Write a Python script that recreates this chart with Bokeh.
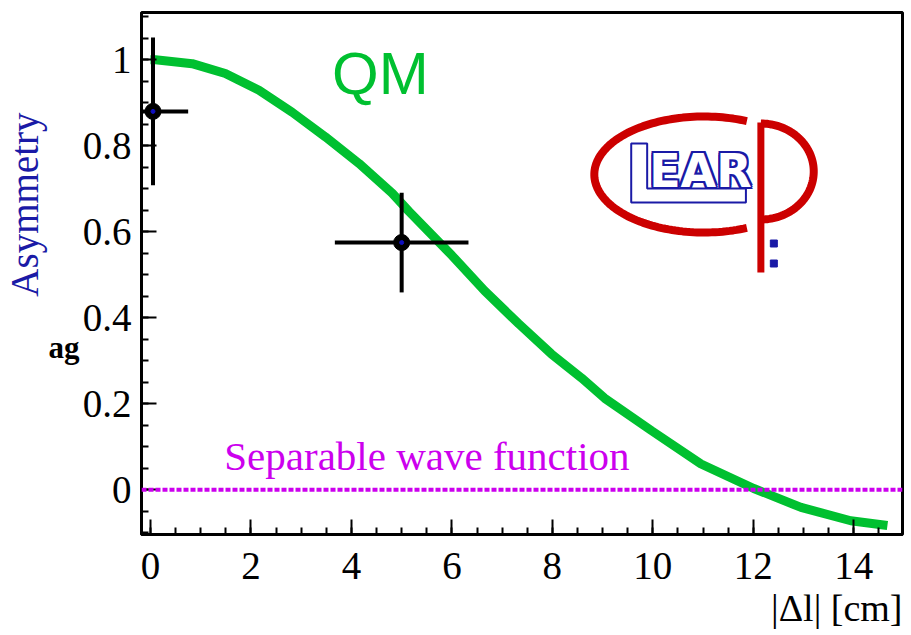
import numpy as np
from bokeh.plotting import figure
from bokeh.models import FixedTicker, Label, Span, Range1d, LinearAxis, Title
from bokeh.embed import file_html
from bokeh.resources import INLINE

# ---------------- data ----------------
qm_x = [0.0, 0.10, 0.83, 1.49, 2.16, 2.82, 3.48, 4.15, 4.81, 5.14, 6.00, 6.65,
        7.33, 7.98, 8.58, 9.04, 9.98, 10.96, 12.01, 12.95, 13.94, 14.67]
qm_y = [1.0, 1.0, 0.991, 0.968, 0.929, 0.878, 0.821, 0.759, 0.690, 0.648, 0.545, 0.463,
        0.386, 0.316, 0.260, 0.213, 0.137, 0.060, 0.003, -0.041, -0.072, -0.083]

pt_x = [0.05, 5.0]
pt_y = [0.88, 0.575]
pt_xerr = [0.70, 1.33]
pt_yerr = [0.172, 0.116]

separable_y = 0.0

x_ticks = [0, 2, 4, 6, 8, 10, 12, 14]
x_tick_labels = ["0", "2", "4", "6", "8", "10", "12", "14"]
x_minor = [i * 0.5 for i in range(0, 31)]
y_ticks = [0, 0.2, 0.4, 0.6, 0.8, 1]
y_tick_labels = ["0", "0.2", "0.4", "0.6", "0.8", "1"]
y_minor = [round(-0.1 + i * 0.05, 2) for i in range(0, 25)]
stray_tick = [0.331]
stray_label = ["ag"]

X0, X1 = -0.179, 14.97
Y0, Y1 = -0.104, 1.110

# ---------------- figure ----------------
p = figure(width=908, height=634, x_range=Range1d(X0, X1), y_range=Range1d(Y0, Y1),
           output_backend="svg", toolbar_location=None,
           min_border_left=139, min_border_right=6, min_border_top=12, min_border_bottom=100)
p.grid.visible = False
p.background_fill_color = "white"
p.border_fill_color = "white"
p.outline_line_color = "black"
p.outline_line_width = 3

for ax, ticks, labels, minor in ((p.xaxis[0], x_ticks, x_tick_labels, x_minor),
                                 (p.yaxis[0], y_ticks, y_tick_labels, y_minor)):
    ax.ticker = FixedTicker(ticks=ticks, minor_ticks=minor)
    ax.major_label_overrides = {t: l for t, l in zip(ticks, labels)}
    ax.major_label_text_font = "Liberation Serif"
    ax.major_label_text_font_size = "39px"
    ax.major_label_text_color = "black"
    ax.axis_line_width = 3
    ax.axis_line_color = "black"
    ax.major_tick_in = 15
    ax.major_tick_out = 0
    ax.minor_tick_in = 7
    ax.minor_tick_out = 0
    ax.major_tick_line_width = 2
    ax.minor_tick_line_width = 2
    ax.major_tick_line_color = "black"
    ax.minor_tick_line_color = "black"
p.xaxis.major_label_standoff = 18
p.yaxis.major_label_standoff = 10

# stray "ag" mark left of the y tick labels
ax2 = LinearAxis(ticker=FixedTicker(ticks=stray_tick, minor_ticks=[]),
                 major_label_overrides={t: l for t, l in zip(stray_tick, stray_label)},
                 axis_line_color=None, major_tick_line_color=None, minor_tick_line_color=None,
                 major_tick_in=0, major_tick_out=0, minor_tick_in=0, minor_tick_out=0,
                 major_label_standoff=0, major_label_text_font="Liberation Serif",
                 major_label_text_font_style="bold", major_label_text_font_size="31px",
                 major_label_text_color="black")
p.add_layout(ax2, "left")

blue = "#1a1aa6"
p.add_layout(Title(text="Asymmetry", align="right", offset=100, standoff=0,
                   text_font="Liberation Serif", text_font_style="normal",
                   text_font_size="39px", text_color=blue), "left")
p.add_layout(Title(text="|\u0394l| [cm]", align="right", standoff=6,
                   text_font="Liberation Serif", text_font_style="normal",
                   text_font_size="38px", text_color="black"), "below")

# pixel -> data helpers for decorations (frame: 139..902 x, 12..534 y)
def PX(px):
    return X0 + (px - 139) / 763.0 * (X1 - X0)

def PY(py):
    return Y1 - (py - 12) / 522.0 * (Y1 - Y0)

# separable wave function line
p.add_layout(Span(location=separable_y, dimension="width", line_color="#cc00ee",
                  line_width=4, line_dash="5 2"))

# QM curve
p.line(qm_x, qm_y, line_color="#00c030", line_width=9)

# error bars
p.segment(x0=[x - e for x, e in zip(pt_x, pt_xerr)], x1=[x + e for x, e in zip(pt_x, pt_xerr)],
          y0=pt_y, y1=pt_y, line_color="black", line_width=4)
p.segment(x0=pt_x, x1=pt_x, y0=[y - e for y, e in zip(pt_y, pt_yerr)],
          y1=[y + e for y, e in zip(pt_y, pt_yerr)], line_color="black", line_width=4)
p.scatter(pt_x, pt_y, size=16, color="black")
p.scatter(pt_x, pt_y, size=4, color="#1010c0")

# ---------------- LEAR logo ----------------
red = "#cc0000"
th = np.radians(np.linspace(67, 293, 120))
p.line([PX(703 + 110 * np.cos(t)) for t in th], [PY(174 - 58 * np.sin(t)) for t in th],
       line_color=red, line_width=8)
th2 = np.radians(np.linspace(-90, 90, 80))
p.line([PX(760 + 53 * np.cos(t)) for t in th2], [PY(171 - 48 * np.sin(t)) for t in th2],
       line_color=red, line_width=8)
p.line([PX(760), PX(760)], [PY(122), PY(272)], line_color=red, line_width=7)
p.rect([PX(773), PX(773)], [PY(243), PY(263)], width=7, height=7,
       width_units="screen", height_units="screen", color=blue)
Lx = [630, 646, 646, 745, 745, 630]
Ly = [143, 143, 188, 188, 202, 202]
p.patch([PX(v) for v in Lx], [PY(v) for v in Ly], fill_color="white",
        line_color=blue, line_width=2)
for dx, dy in ((-2, 0), (2, 0), (0, -2), (0, 2), (-2, -2), (2, 2), (-2, 2), (2, -2)):
    p.add_layout(Label(x=PX(648), y=PY(170), text="EAR", x_offset=dx, y_offset=dy,
                       text_font="DejaVu Sans", text_font_style="bold",
                       text_font_size="46px", text_color=blue,
                       text_align="left", text_baseline="alphabetic"))
p.add_layout(Label(x=PX(648), y=PY(170), text="EAR",
                   text_font="DejaVu Sans", text_font_style="bold",
                   text_font_size="46px", text_color="white",
                   text_align="left", text_baseline="alphabetic"))

# ---------------- texts ----------------
p.add_layout(Label(x=PX(330), y=PY(73), text="QM", text_font="Liberation Sans",
                   text_font_size="60px", text_color="#00c030",
                   text_align="left", text_baseline="alphabetic"))
p.add_layout(Label(x=PX(222), y=PY(455), text="Separable wave function",
                   text_font="Liberation Serif", text_font_size="41px",
                   text_color="#cc00ee", text_align="left", text_baseline="alphabetic"))

open("out.html", "w").write(file_html(p, INLINE))
